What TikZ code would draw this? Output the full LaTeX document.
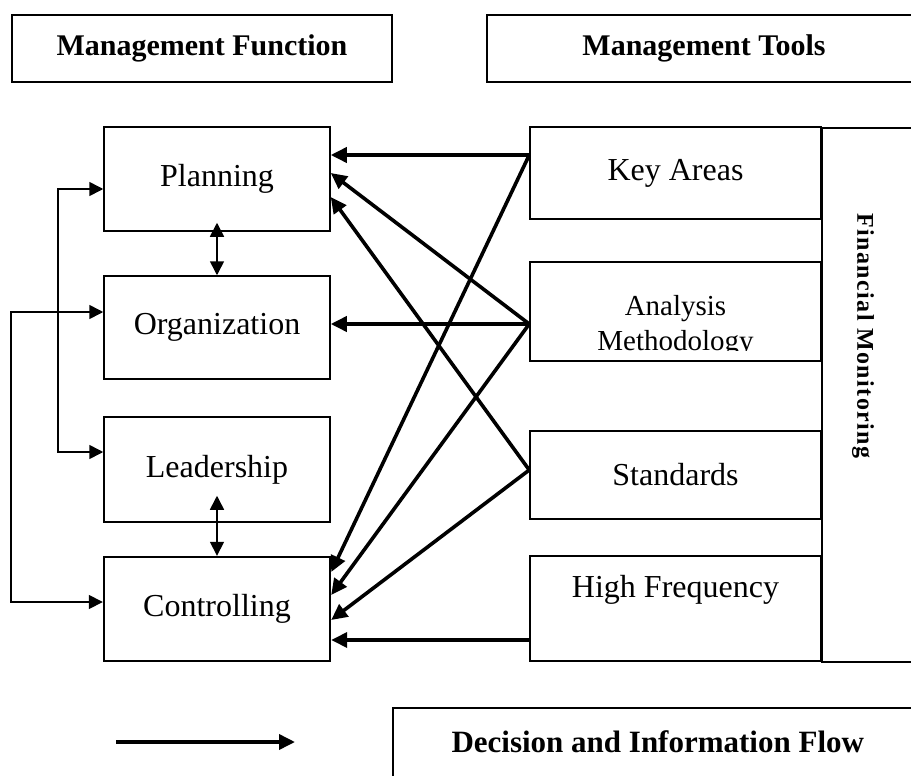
\documentclass[tikz,border=0pt]{standalone}
\usepackage{fontspec}
\setmainfont{Liberation Serif}
\newfontfamily\spacedfont[LetterSpace=6]{Liberation Serif}
\usetikzlibrary{arrows.meta}

\begin{document}
\begin{tikzpicture}[x=1pt,y=-1pt,
  box/.style={draw,line width=1.5pt,inner sep=0pt,font=\fontsize{32}{38}\selectfont},
  headbox/.style={box,font=\bfseries\fontsize{30}{36}\selectfont},
  flow/.style={line width=3.6pt,-{Triangle[length=16pt,width=15pt]}},
  link/.style={line width=1.6pt,{Triangle[length=14pt,width=14pt]}-{Triangle[length=14pt,width=14pt]}}]
\useasboundingbox (0,0) rectangle (911,776);

\node[headbox,minimum width=380,minimum height=67] (hfun) at (202,48.5) {Management Function};
\node[headbox,minimum width=434,minimum height=67] (htool) at (704,48.5) {Management Tools};

\node[box,minimum width=226,minimum height=104] (plan) at (217,179) {Planning};
\node[box,minimum width=226,minimum height=103] (org) at (217,327.5) {Organization};
\node[box,minimum width=226,minimum height=105] (lead) at (217,469.5) {Leadership};
\node[box,line width=2.4pt,minimum width=226,minimum height=104] (ctrl) at (217,609) {Controlling};

\node[box,minimum width=140,minimum height=534,anchor=north west] (fin) at (821,127) {};
\node[font=\spacedfont\bfseries\fontsize{24}{28}\selectfont,rotate=-90] (fintxt) at (863,336) {Financial Monitoring};

\node[box,minimum width=291,minimum height=92] (key) at (675.5,173) {Key Areas};
\node[box,minimum width=291,minimum height=99] (anal) at (675.5,311.5) {};
\begin{scope}
\clip (anal.north west) rectangle ([yshift=11pt]anal.south east);
\node[font=\fontsize{29}{35}\selectfont,align=center] (analtxt) at (675.5,326) {Analysis\\Methodology};
\end{scope}
\node[box,minimum width=291,minimum height=88] (std) at (675.5,475) {Standards};
\node[box,minimum width=291,minimum height=105,text depth=45pt] (high) at (675.5,608.5) {High Frequency};

\draw[flow] ([yshift=18pt]key.west) -- ([yshift=24pt]plan.east);
\draw[flow] ([yshift=18pt]key.west) -- ([yshift=37pt]ctrl.east);
\draw[flow] ([yshift=-12.5pt]anal.west) -- ([yshift=6pt]plan.east);
\draw[flow] ([yshift=-12.5pt]anal.west) -- ([yshift=3.5pt]org.east);
\draw[flow] ([yshift=-12.5pt]anal.west) -- ([yshift=14pt]ctrl.east);
\draw[flow] ([yshift=5pt]std.west) -- ([yshift=-18pt]plan.east);
\draw[flow] ([yshift=5pt]std.west) -- ([yshift=-11pt]ctrl.east);
\draw[flow] ([yshift=-31.5pt]high.west) -- ([yshift=-31pt]ctrl.east);

\draw[link] ([yshift=-10pt]plan.west) -- ++(-45,0) |- ([yshift=17.5pt]lead.west);
\draw[link] ([yshift=15.5pt]org.west) -- ++(-92,0) |- ([yshift=7pt]ctrl.west);
\draw[link] ([yshift=9pt]plan.south) -- (org.north);
\draw[link] ([yshift=27pt]lead.south) -- (ctrl.north);

\coordinate (legs) at (116,742);
\coordinate (lege) at (295,742);
\draw[flow] (legs) -- (lege);
\node[headbox,minimum width=570,minimum height=120,anchor=north west] (dflow) at (392,707) {};
\node[font=\bfseries\fontsize{31}{36}\selectfont,anchor=west] (dftxt) at (448,742) {Decision and Information Flow};
\end{tikzpicture}
\end{document}
